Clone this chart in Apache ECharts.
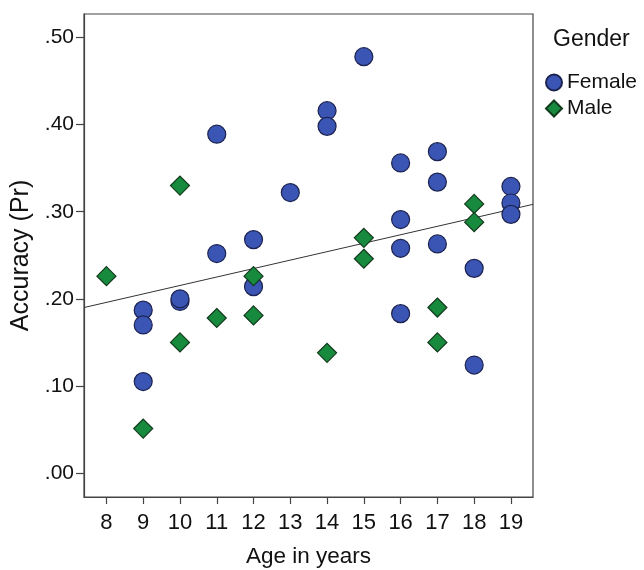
<!DOCTYPE html>
<html>
<head>
<meta charset="utf-8">
<script src="https://cdn.jsdelivr.net/npm/echarts@6/dist/echarts.min.js"></script>
<style>
  html, body { margin: 0; padding: 0; background: #fff; }
  #chart { width: 644px; height: 570px; }
</style>
</head>
<body>
<div id="chart"></div>
<script>
// ages and accuracy values
const femaleAge = [9, 9, 9, 10, 10, 11, 11, 12, 12, 13, 14, 14, 15, 16, 16, 16, 16, 17, 17, 17, 18, 18, 19, 19, 19]
const femaleAcc = [0.187, 0.170, 0.105, 0.197, 0.200, 0.389, 0.252, 0.268, 0.214, 0.322, 0.416, 0.398, 0.478, 0.356, 0.291, 0.258, 0.183, 0.369, 0.334, 0.263, 0.235, 0.124, 0.329, 0.310, 0.297]
const maleAge = [8, 9, 10, 10, 11, 12, 12, 14, 15, 15, 17, 17, 18, 18]
const maleAcc = [0.226, 0.051, 0.330, 0.150, 0.178, 0.226, 0.181, 0.138, 0.270, 0.246, 0.190, 0.150, 0.309, 0.288]
// fit line end points (age, accuracy)
const fitAge = [7.39, 19.6]
const fitAcc = [0.190, 0.3085]
const xTicks = [8, 9, 10, 11, 12, 13, 14, 15, 16, 17, 18, 19]
const yTicks = [0, 0.1, 0.2, 0.3, 0.4, 0.5]

const pair = (xs, ys) => xs.map((x, i) => [x, ys[i]])
const font = 'Liberation Sans, Arial, sans-serif'

let chart = echarts.init(document.getElementById('chart'), null, { renderer: 'canvas' })

const option = {
    animation: false,
    title: {
        text: 'Gender',
        left: 548,
        top: 23,
        textStyle: {
            fontFamily: font,
            fontSize: 23,
            fontWeight: 'normal',
            color: '#111'
        }
    },
    legend: {
        orient: 'vertical',
        left: 540,
        top: 67,
        itemWidth: 16,
        itemHeight: 16,
        itemGap: 5,
        textStyle: {
            fontFamily: font,
            fontSize: 21,
            color: '#111'
        },
        data: ['Female', 'Male']
    },
    grid: {
        left: 84,
        top: 14,
        width: 449,
        height: 483,
        outerBoundsMode: 'none',
        containLabel: false,
        show: true,
        borderColor: '#444',
        borderWidth: 1.2
    },
    xAxis: {
        type: 'value',
        min: 7.39,
        max: 19.6,
        name: 'Age in years',
        nameLocation: 'middle',
        nameGap: 48,
        nameTextStyle: {
            fontFamily: font,
            fontSize: 22.5,
            color: '#111'
        },
        axisLine: { show: true, onZero: false, lineStyle: { color: '#444', width: 1.2 } },
        axisTick: {
            show: true,
            length: 7,
            customValues: xTicks,
            lineStyle: { color: '#444', width: 1.2 }
        },
        axisLabel: {
            customValues: xTicks,
            margin: 15,
            fontFamily: font,
            fontSize: 22,
            color: '#111'
        },
        splitLine: { show: false }
    },
    yAxis: {
        type: 'value',
        min: -0.0275,
        max: 0.527,
        name: 'Accuracy (Pr)',
        nameLocation: 'middle',
        nameGap: 47,
        nameTextStyle: {
            fontFamily: font,
            fontSize: 25,
            color: '#111'
        },
        axisLine: { show: true, onZero: false, lineStyle: { color: '#444', width: 1.2 } },
        axisTick: {
            show: true,
            length: 8,
            customValues: yTicks,
            lineStyle: { color: '#444', width: 1.2 }
        },
        axisLabel: {
            customValues: yTicks,
            margin: 10,
            fontFamily: font,
            fontSize: 21,
            color: '#111',
            formatter: function (val) {
                return val.toFixed(2).replace(/^0/, '')
            }
        },
        splitLine: { show: false }
    },
    series: [{
        name: 'Fit',
        type: 'line',
        data: pair(fitAge, fitAcc),
        symbol: 'none',
        silent: true,
        lineStyle: { color: '#333', width: 1 },
        z: 1
    }, {
        name: 'Female',
        type: 'scatter',
        symbol: 'circle',
        symbolSize: 18,
        itemStyle: {
            color: '#3b55b5',
            borderColor: '#1c2350',
            borderWidth: 1.2,
            opacity: 1
        },
        data: pair(femaleAge, femaleAcc),
        z: 3
    }, {
        name: 'Male',
        type: 'scatter',
        symbol: 'diamond',
        symbolSize: 19,
        itemStyle: {
            color: '#188a3e',
            borderColor: '#123a1c',
            borderWidth: 1.2,
            opacity: 1
        },
        data: pair(maleAge, maleAcc),
        z: 4
    }]
}

chart.setOption(option)
</script>
</body>
</html>
